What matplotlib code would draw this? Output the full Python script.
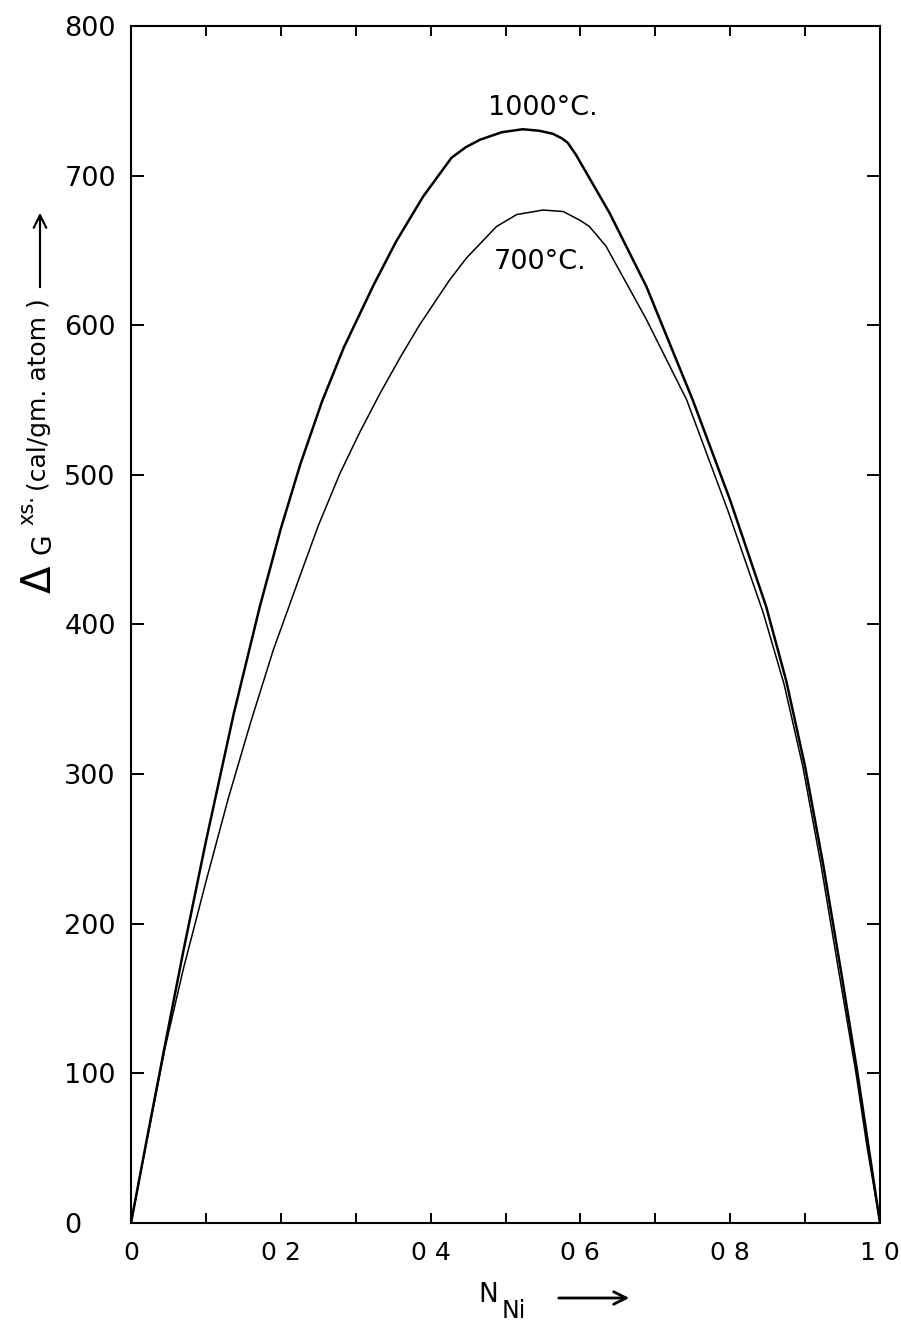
import matplotlib
matplotlib.use("Agg")
import matplotlib.pyplot as plt
from matplotlib.patches import FancyArrowPatch
from matplotlib.ticker import MultipleLocator

# Excess free energy of mixing (cal/gm. atom) vs. mole fraction of Ni
n_ni_1000 = [0.0, 0.020, 0.045, 0.070, 0.100, 0.137, 0.172, 0.200, 0.226, 0.255,
             0.284, 0.324, 0.354, 0.390, 0.428, 0.447, 0.466, 0.495, 0.523, 0.545,
             0.563, 0.575, 0.583, 0.594, 0.639, 0.688, 0.750, 0.800, 0.848, 0.875,
             0.900, 0.924, 0.949, 0.970, 0.985, 1.0]
dg_1000 = [0, 53, 118, 182, 255, 340, 412, 464, 507, 549,
           585, 627, 656, 686, 712, 719, 724, 729, 731, 730,
           728, 725, 722, 714, 675, 626, 550, 483, 412, 362,
           305, 240, 165, 100, 50, 0]

n_ni_700 = [0.0, 0.020, 0.045, 0.070, 0.100, 0.130, 0.160, 0.190, 0.226, 0.250,
            0.279, 0.305, 0.332, 0.360, 0.385, 0.425, 0.448, 0.488, 0.515, 0.550,
            0.577, 0.600, 0.612, 0.634, 0.688, 0.742, 0.797, 0.844, 0.872, 0.897,
            0.921, 0.946, 0.968, 0.983, 1.0]
dg_700 = [0, 52, 116, 170, 228, 284, 335, 383, 433, 466,
          501, 528, 554, 579, 600, 630, 645, 666, 674, 677,
          676, 670, 666, 653, 604, 550, 476, 408, 360, 305,
          240, 165, 100, 50, 0]

x_ticks = [0.0, 0.2, 0.4, 0.6, 0.8, 1.0]
x_tick_labels = ["0", "0 2", "0 4", "0 6", "0 8", "1 0"]
y_ticks = [0, 100, 200, 300, 400, 500, 600, 700, 800]
y_tick_labels = [str(v) for v in y_ticks]

W, H = 901, 1324
fig = plt.figure(figsize=(W / 100, H / 100), dpi=100)
ax = fig.add_axes([131 / W, 101 / H, 749 / W, 1197 / H])

ax.plot(n_ni_1000, dg_1000, color="black", lw=1.8,
        solid_joinstyle="round", solid_capstyle="round")
ax.plot(n_ni_700, dg_700, color="black", lw=1.1,
        solid_joinstyle="round", solid_capstyle="round")

ax.set_xlim(0, 1.0)
ax.set_ylim(0, 800)

for s in ax.spines.values():
    s.set_linewidth(1.5)

ax.set_xticks(x_ticks)
ax.set_xticklabels(x_tick_labels, fontsize=18)
ax.xaxis.set_minor_locator(MultipleLocator(0.1))
ax.set_yticks(y_ticks)
ax.set_yticklabels(y_tick_labels, fontsize=19.5, ha="left")

ax.tick_params(axis="x", which="both", direction="in", top=True, bottom=True,
               length=7, width=1.4, pad=13)
ax.tick_params(axis="y", which="both", direction="in", left=True, right=True,
               length=9.5, width=1.4, pad=48)

# curve labels
ax.text(0.477, 745, "1000°C.", fontsize=19.5, ha="left", va="center")
ax.text(0.484, 642, "700°C.", fontsize=19.5, ha="left", va="center")


def fx(px):
    return px / W


def fy(py):
    return 1 - py / H


# y-axis title, assembled piece by piece and rotated
fig.text(fx(40), fy(593), "Δ", fontsize=29, rotation=90, ha="center", va="bottom")
fig.text(fx(43), fy(554), "G", fontsize=19, rotation=90, ha="center", va="bottom")
fig.text(fx(27), fy(525), "xs.", fontsize=15, rotation=90, ha="center", va="bottom")
fig.text(fx(39), fy(298), "(cal/gm. atom )", fontsize=18, rotation=90,
         ha="center", va="top")
fig.patches.append(FancyArrowPatch(
    (fx(40), fy(290)), (fx(40), fy(210)), transform=fig.transFigure,
    arrowstyle="->,head_length=6,head_width=3", lw=1.6, color="black",
    mutation_scale=1.5))

# x-axis title
fig.text(fx(478), fy(1302), "N", fontsize=19, ha="left", va="baseline")
fig.text(fx(502), fy(1318), "Ni", fontsize=17, ha="left", va="baseline")
fig.patches.append(FancyArrowPatch(
    (fx(556), fy(1298)), (fx(632), fy(1298)), transform=fig.transFigure,
    arrowstyle="->,head_length=6,head_width=3", lw=2.0, color="black",
    mutation_scale=1.5))

fig.savefig("out.png", dpi=100, facecolor="white")
